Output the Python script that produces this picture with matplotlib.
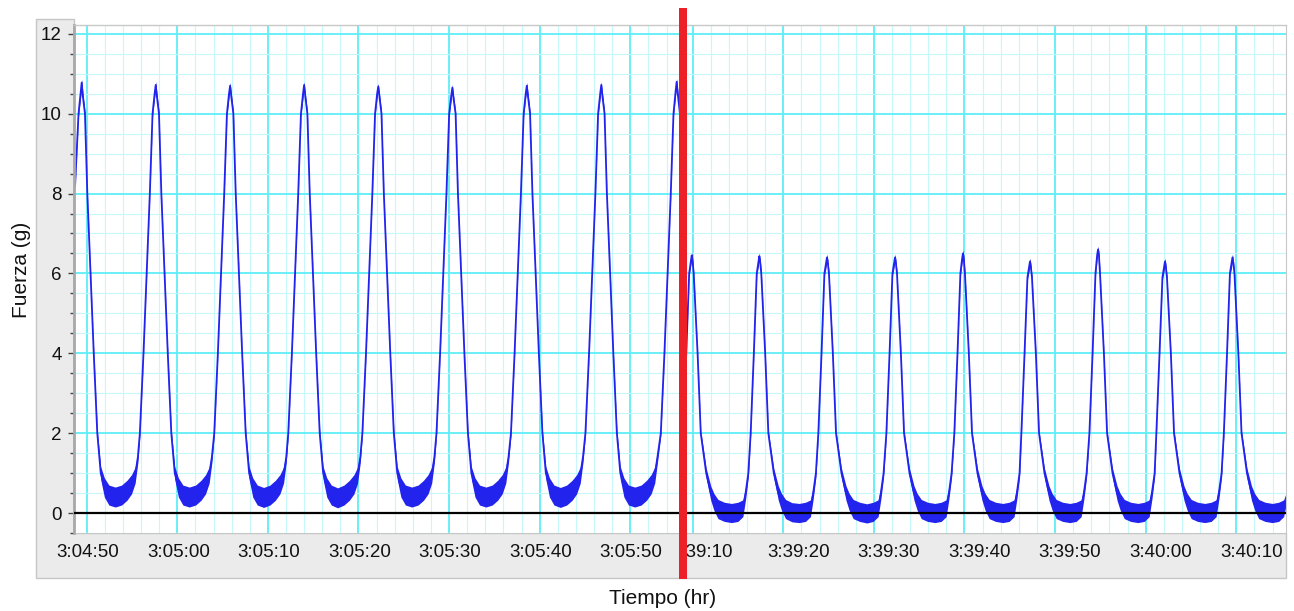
import matplotlib
matplotlib.use("Agg")
import matplotlib.pyplot as plt
from matplotlib.patches import Rectangle, Polygon
from matplotlib.transforms import Bbox, TransformedBbox, ScaledTranslation
from matplotlib.ticker import MultipleLocator, FixedLocator, FixedFormatter
import numpy as np

plt.rcParams['font.family'] = ['Liberation Sans', 'DejaVu Sans']

# ---------------- data ----------------
# time in seconds after 3:04:50 (left block) / after 3:39:10 (right block)
left_time = [
    -1.28, -0.9, -0.67, -0.55, -0.43, -0.19, 0.07, 0.43, 0.78, 1.17, 1.55, 1.95, 2.45, 3.15, 3.85, 4.45, 4.95, 5.35, 5.65,
    5.87, 6.27, 6.62, 6.97, 7.27, 7.5, 7.62, 7.74, 7.98, 8.24, 8.6, 8.95, 9.34, 9.72, 10.12, 10.62, 11.32, 12.02, 12.62, 13.12, 13.52, 13.82,
    14.08, 14.48, 14.83, 15.18, 15.48, 15.71, 15.83, 15.95, 16.19, 16.45, 16.81, 17.16, 17.55, 17.93, 18.33, 18.83, 19.53, 20.23, 20.83, 21.33, 21.73, 22.03,
    22.25, 22.65, 23.0, 23.35, 23.65, 23.88, 24.0, 24.12, 24.36, 24.62, 24.98, 25.33, 25.72, 26.1, 26.5, 27.0, 27.7, 28.4, 29.0, 29.5, 29.9, 30.2,
    30.43, 30.83, 31.18, 31.53, 31.83, 32.06, 32.18, 32.3, 32.54, 32.8, 33.16, 33.51, 33.9, 34.28, 34.68, 35.18, 35.88, 36.58, 37.18, 37.68, 38.08, 38.38,
    38.61, 39.01, 39.36, 39.71, 40.01, 40.24, 40.36, 40.48, 40.72, 40.98, 41.34, 41.69, 42.08, 42.46, 42.86, 43.36, 44.06, 44.76, 45.36, 45.86, 46.26, 46.56,
    46.83, 47.23, 47.58, 47.93, 48.23, 48.46, 48.58, 48.7, 48.94, 49.2, 49.56, 49.91, 50.3, 50.68, 51.08, 51.58, 52.28, 52.98, 53.58, 54.08, 54.48, 54.78,
    55.05, 55.45, 55.8, 56.15, 56.45, 56.68, 56.8, 56.92, 57.16, 57.42, 57.78, 58.13, 58.52, 58.9, 59.3, 59.8, 60.5, 61.2, 61.8, 62.3, 62.7, 63.0,
    63.37, 63.77, 64.12, 64.47, 64.77, 65.0, 65.12, 65.24, 65.48, 65.74, 66.1,
]
left_force = [
    8.2, 10.0, 10.5, 10.78, 10.45, 10.0, 8.0, 6.0, 4.0, 2.0, 1.0, 0.64, 0.45, 0.4, 0.45, 0.57, 0.72, 0.95, 1.4,
    2.0, 4.0, 6.0, 8.0, 10.0, 10.5, 10.72, 10.45, 10.0, 8.0, 6.0, 4.0, 2.0, 1.0, 0.64, 0.45, 0.4, 0.45, 0.57, 0.72, 0.95, 1.4,
    2.0, 4.0, 6.0, 8.0, 10.0, 10.5, 10.7, 10.45, 10.0, 8.0, 6.0, 4.0, 2.0, 1.0, 0.64, 0.45, 0.39, 0.45, 0.57, 0.72, 0.95, 1.4,
    2.0, 4.0, 6.0, 8.0, 10.0, 10.5, 10.72, 10.45, 10.0, 8.0, 6.0, 4.0, 2.0, 1.0, 0.64, 0.45, 0.38, 0.45, 0.57, 0.72, 0.95, 1.4,
    2.0, 4.0, 6.0, 8.0, 10.0, 10.5, 10.68, 10.45, 10.0, 8.0, 6.0, 4.0, 2.0, 1.0, 0.64, 0.45, 0.4, 0.45, 0.57, 0.72, 0.95, 1.4,
    2.0, 4.0, 6.0, 8.0, 10.0, 10.45, 10.65, 10.4, 10.0, 8.0, 6.0, 4.0, 2.0, 1.0, 0.64, 0.45, 0.4, 0.45, 0.57, 0.72, 0.95, 1.4,
    2.0, 4.0, 6.0, 8.0, 10.0, 10.5, 10.7, 10.45, 10.0, 8.0, 6.0, 4.0, 2.0, 1.0, 0.64, 0.45, 0.39, 0.45, 0.57, 0.72, 0.95, 1.4,
    2.0, 4.0, 6.0, 8.0, 10.0, 10.5, 10.72, 10.45, 10.0, 8.0, 6.0, 4.0, 2.0, 1.0, 0.64, 0.45, 0.4, 0.45, 0.57, 0.72, 0.95, 1.4,
    2.0, 4.0, 6.0, 8.0, 10.0, 10.55, 10.8, 10.5, 10.0, 8.0, 6.0,
]
left_spread = [
    0.04, 0.06, 0.1, 0.08, 0.1, 0.06, 0.04, 0.04, 0.05, 0.08, 0.16, 0.24, 0.25, 0.25, 0.25, 0.25, 0.24, 0.2, 0.13,
    0.06, 0.04, 0.04, 0.04, 0.06, 0.1, 0.08, 0.1, 0.06, 0.04, 0.04, 0.05, 0.08, 0.16, 0.24, 0.25, 0.25, 0.25, 0.25, 0.24, 0.2, 0.13,
    0.06, 0.04, 0.04, 0.04, 0.06, 0.1, 0.08, 0.1, 0.06, 0.04, 0.04, 0.05, 0.08, 0.16, 0.24, 0.25, 0.25, 0.25, 0.25, 0.24, 0.2, 0.13,
    0.06, 0.04, 0.04, 0.04, 0.06, 0.1, 0.08, 0.1, 0.06, 0.04, 0.04, 0.05, 0.08, 0.16, 0.24, 0.25, 0.25, 0.25, 0.25, 0.24, 0.2, 0.13,
    0.06, 0.04, 0.04, 0.04, 0.06, 0.1, 0.08, 0.1, 0.06, 0.04, 0.04, 0.05, 0.08, 0.16, 0.24, 0.25, 0.25, 0.25, 0.25, 0.24, 0.2, 0.13,
    0.06, 0.04, 0.04, 0.04, 0.06, 0.1, 0.08, 0.1, 0.06, 0.04, 0.04, 0.05, 0.08, 0.16, 0.24, 0.25, 0.25, 0.25, 0.25, 0.24, 0.2, 0.13,
    0.06, 0.04, 0.04, 0.04, 0.06, 0.1, 0.08, 0.1, 0.06, 0.04, 0.04, 0.05, 0.08, 0.16, 0.24, 0.25, 0.25, 0.25, 0.25, 0.24, 0.2, 0.13,
    0.06, 0.04, 0.04, 0.04, 0.06, 0.1, 0.08, 0.1, 0.06, 0.04, 0.04, 0.05, 0.08, 0.16, 0.24, 0.25, 0.25, 0.25, 0.25, 0.24, 0.2, 0.13,
    0.06, 0.04, 0.04, 0.04, 0.06, 0.1, 0.08, 0.1, 0.06, 0.04, 0.04,
]

right_time = [
    -1.06, -0.71, -0.39, -0.21, -0.11, -0.01, 0.11, 0.54, 0.89, 1.49, 1.99, 2.34, 2.79, 3.49, 4.29, 4.99, 5.54, 5.84, 6.14,
    6.4, 6.75, 7.07, 7.25, 7.35, 7.45, 7.57, 8.0, 8.35, 8.95, 9.45, 9.8, 10.25, 10.95, 11.75, 12.45, 13.0, 13.3, 13.6,
    13.87, 14.22, 14.54, 14.72, 14.82, 14.92, 15.04, 15.47, 15.82, 16.42, 16.92, 17.27, 17.72, 18.42, 19.22, 19.92, 20.47, 20.77, 21.07,
    21.38, 21.73, 22.05, 22.23, 22.33, 22.43, 22.55, 22.98, 23.33, 23.93, 24.43, 24.78, 25.23, 25.93, 26.73, 27.43, 27.98, 28.28, 28.58,
    28.88, 29.23, 29.55, 29.73, 29.83, 29.93, 30.05, 30.48, 30.83, 31.43, 31.93, 32.28, 32.73, 33.43, 34.23, 34.93, 35.48, 35.78, 36.08,
    36.28, 36.63, 36.95, 37.13, 37.23, 37.33, 37.45, 37.88, 38.23, 38.83, 39.33, 39.68, 40.13, 40.83, 41.63, 42.33, 42.88, 43.18, 43.48,
    43.79, 44.14, 44.46, 44.64, 44.74, 44.84, 44.96, 45.39, 45.74, 46.34, 46.84, 47.19, 47.64, 48.34, 49.14, 49.84, 50.39, 50.69, 50.99,
    51.18, 51.53, 51.85, 52.03, 52.13, 52.23, 52.35, 52.78, 53.13, 53.73, 54.23, 54.58, 55.03, 55.73, 56.53, 57.23, 57.78, 58.08, 58.38,
    58.63, 58.98, 59.3, 59.48, 59.58, 59.68, 59.8, 60.23, 60.58, 61.18, 61.68, 62.03, 62.48, 63.18, 63.98, 64.68, 65.23, 65.5,
]
right_force = [
    2.0, 4.0, 6.0, 6.3, 6.45, 6.3, 6.0, 4.0, 2.0, 1.0, 0.5, 0.28, 0.1, 0.03, 0.0, 0.03, 0.12, 0.5, 1.0,
    2.0, 4.0, 6.0, 6.28, 6.43, 6.28, 6.0, 4.0, 2.0, 1.0, 0.5, 0.28, 0.1, 0.02, 0.0, 0.03, 0.12, 0.5, 1.0,
    2.0, 4.0, 6.0, 6.25, 6.4, 6.25, 6.0, 4.0, 2.0, 1.0, 0.5, 0.28, 0.1, 0.03, -0.01, 0.03, 0.12, 0.5, 1.0,
    2.0, 4.0, 6.0, 6.25, 6.4, 6.25, 6.0, 4.0, 2.0, 1.0, 0.5, 0.28, 0.1, 0.03, 0.0, 0.03, 0.12, 0.5, 1.0,
    2.0, 4.0, 6.0, 6.35, 6.5, 6.35, 6.0, 4.0, 2.0, 1.0, 0.5, 0.28, 0.1, 0.03, 0.0, 0.03, 0.12, 0.5, 1.0,
    2.0, 4.0, 5.9, 6.15, 6.3, 6.15, 5.9, 4.0, 2.0, 1.0, 0.5, 0.28, 0.1, 0.03, 0.0, 0.03, 0.12, 0.5, 1.0,
    2.0, 4.0, 6.0, 6.45, 6.6, 6.45, 6.0, 4.0, 2.0, 1.0, 0.5, 0.28, 0.1, 0.03, 0.0, 0.03, 0.12, 0.5, 1.0,
    2.0, 4.0, 5.9, 6.15, 6.3, 6.15, 5.9, 4.0, 2.0, 1.0, 0.5, 0.28, 0.1, 0.03, 0.0, 0.03, 0.12, 0.5, 1.0,
    2.0, 4.0, 6.0, 6.25, 6.4, 6.25, 6.0, 4.0, 2.0, 1.0, 0.5, 0.28, 0.1, 0.03, 0.0, 0.03, 0.12, 0.35,
]
right_spread = [
    0.05, 0.04, 0.05, 0.1, 0.08, 0.1, 0.05, 0.04, 0.06, 0.12, 0.18, 0.21, 0.24, 0.24, 0.24, 0.24, 0.21, 0.15, 0.1,
    0.05, 0.04, 0.05, 0.1, 0.08, 0.1, 0.05, 0.04, 0.06, 0.12, 0.18, 0.21, 0.24, 0.24, 0.24, 0.24, 0.21, 0.15, 0.1,
    0.05, 0.04, 0.05, 0.1, 0.08, 0.1, 0.05, 0.04, 0.06, 0.12, 0.18, 0.21, 0.24, 0.24, 0.24, 0.24, 0.21, 0.15, 0.1,
    0.05, 0.04, 0.05, 0.1, 0.08, 0.1, 0.05, 0.04, 0.06, 0.12, 0.18, 0.21, 0.24, 0.24, 0.24, 0.24, 0.21, 0.15, 0.1,
    0.05, 0.04, 0.05, 0.1, 0.08, 0.1, 0.05, 0.04, 0.06, 0.12, 0.18, 0.21, 0.24, 0.24, 0.24, 0.24, 0.21, 0.15, 0.1,
    0.05, 0.04, 0.05, 0.1, 0.08, 0.1, 0.05, 0.04, 0.06, 0.12, 0.18, 0.21, 0.24, 0.24, 0.24, 0.24, 0.21, 0.15, 0.1,
    0.05, 0.04, 0.05, 0.1, 0.08, 0.1, 0.05, 0.04, 0.06, 0.12, 0.18, 0.21, 0.24, 0.24, 0.24, 0.24, 0.21, 0.15, 0.1,
    0.05, 0.04, 0.05, 0.1, 0.08, 0.1, 0.05, 0.04, 0.06, 0.12, 0.18, 0.21, 0.24, 0.24, 0.24, 0.24, 0.21, 0.15, 0.1,
    0.05, 0.04, 0.05, 0.1, 0.08, 0.1, 0.05, 0.04, 0.06, 0.12, 0.18, 0.21, 0.24, 0.24, 0.24, 0.24, 0.21, 0.15,
]

left_tick_pos = [0, 10, 20, 30, 40, 50, 60]
left_tick_labels = ["3:04:50", "3:05:00", "3:05:10", "3:05:20", "3:05:30", "3:05:40", "3:05:50"]
right_tick_pos = [0, 10, 20, 30, 40, 50, 60]
right_tick_labels = ["3:39:10", "3:39:20", "3:39:30", "3:39:40", "3:39:50", "3:40:00", "3:40:10"]
y_ticks = [0, 2, 4, 6, 8, 10, 12]
y_tick_labels = ["0", "2", "4", "6", "8", "10", "12"]

# ---------------- figure ----------------
W, H = 1294, 611
fig = plt.figure(figsize=(W / 100, H / 100), dpi=100)


def fx(px):
    return px / W


def fy(py):
    return 1 - py / H


panel = Polygon([(fx(36), fy(19)), (fx(74), fy(19)), (fx(74), fy(533)), (fx(1286), fy(533)),
                 (fx(1286), fy(578)), (fx(36), fy(578))], closed=True,
                transform=fig.transFigure, facecolor='#ebebeb', edgecolor='#c6c6c6', lw=1.0, zorder=-5)
fig.patches.append(panel)

ax_b, ax_t = fy(533), fy(25)
ax1 = fig.add_axes([fx(74), ax_b, fx(683) - fx(74), ax_t - ax_b])
ax2 = fig.add_axes([fx(683), ax_b, fx(1286) - fx(683), ax_t - ax_b])

blue = '#2323ee'
major_c = '#5eeef8'
minor_c = '#c6f7fb'

for ax, t, f, s, lim, tpos, tlab in [
    (ax1, left_time, left_force, left_spread, (-1.40, 65.82), left_tick_pos, left_tick_labels),
    (ax2, right_time, right_force, right_spread, (-1.07, 65.49), right_tick_pos, right_tick_labels),
]:
    t = np.array(t); f = np.array(f); s = np.array(s)
    ax.set_facecolor('white')
    ax.set_xlim(*lim)
    ax.set_ylim(-0.5, 12.22)
    ax.xaxis.set_major_locator(FixedLocator(tpos))
    ax.xaxis.set_major_formatter(FixedFormatter(tlab))
    ax.xaxis.set_minor_locator(MultipleLocator(2))
    ax.yaxis.set_major_locator(FixedLocator(y_ticks))
    ax.yaxis.set_minor_locator(MultipleLocator(0.5))
    ax.set_axisbelow(True)
    ax.grid(which='minor', color=minor_c, lw=0.8)
    ax.grid(which='major', color=major_c, lw=1.3)
    ax.fill_between(t, f - s, f + s, color=blue, lw=0, zorder=2)
    ax.plot(t, f, color=blue, lw=1.3, zorder=2.5)
    ax.axhline(0, color='black', lw=1.6, zorder=3)
    ax.tick_params(axis='x', which='both', length=0, pad=8, labelsize=13.5, colors='#111111')
    for sp in ['bottom', 'left', 'right']:
        ax.spines[sp].set_visible(False)
    ax.spines['top'].set_color('#c8c8c8')
    ax.spines['top'].set_linewidth(1.0)

ax1.yaxis.set_major_formatter(FixedFormatter(y_tick_labels))
ax1.spines['left'].set_visible(True)
ax1.spines['left'].set_color('#a8a8a8')
ax1.spines['left'].set_linewidth(2.0)
ax1.tick_params(axis='y', which='major', direction='out', length=4, width=1.0, color='#444444',
                pad=5, labelsize=13.5, labelcolor='#111111')
ax1.tick_params(axis='y', which='minor', direction='out', length=3, width=1.0, color='#444444')
ax2.tick_params(axis='y', which='both', left=False, labelleft=False)
ax2.spines['right'].set_visible(True)
ax2.spines['right'].set_color('#c8c8c8')

# label offsets (the right block's labels sit a little right of their grid lines)
shift_l = ScaledTranslation(1 / 100, 0, fig.dpi_scale_trans)
for tk in ax1.xaxis.get_major_ticks():
    tk.label1.set_transform(tk.label1.get_transform() + shift_l)

# clip right block tick labels to its own column (first label is cut by the separator)
clip = TransformedBbox(Bbox([[fx(687), 0], [1, 1]]), fig.transFigure)
for i, tk in enumerate(ax2.xaxis.get_major_ticks()):
    dx = 9 if i == 0 else 15
    tk.label1.set_transform(tk.label1.get_transform() + ScaledTranslation(dx / 100, 0, fig.dpi_scale_trans))
    tk.label1.set_clip_on(True)
    tk.label1.set_clip_box(clip)

# red separator
fig.add_artist(Rectangle((fx(679), fy(579)), fx(687) - fx(679), fy(8) - fy(579),
                         transform=fig.transFigure, facecolor='#ee2027', edgecolor='none', zorder=10))

fig.text(fx(663), fy(598), 'Tiempo (hr)', ha='center', va='center', fontsize=15, color='#111111')
fig.text(fx(22), fy(270), 'Fuerza (g)', ha='center', va='center', rotation=90, fontsize=15, color='#111111')

fig.savefig('out.png', dpi=100)
